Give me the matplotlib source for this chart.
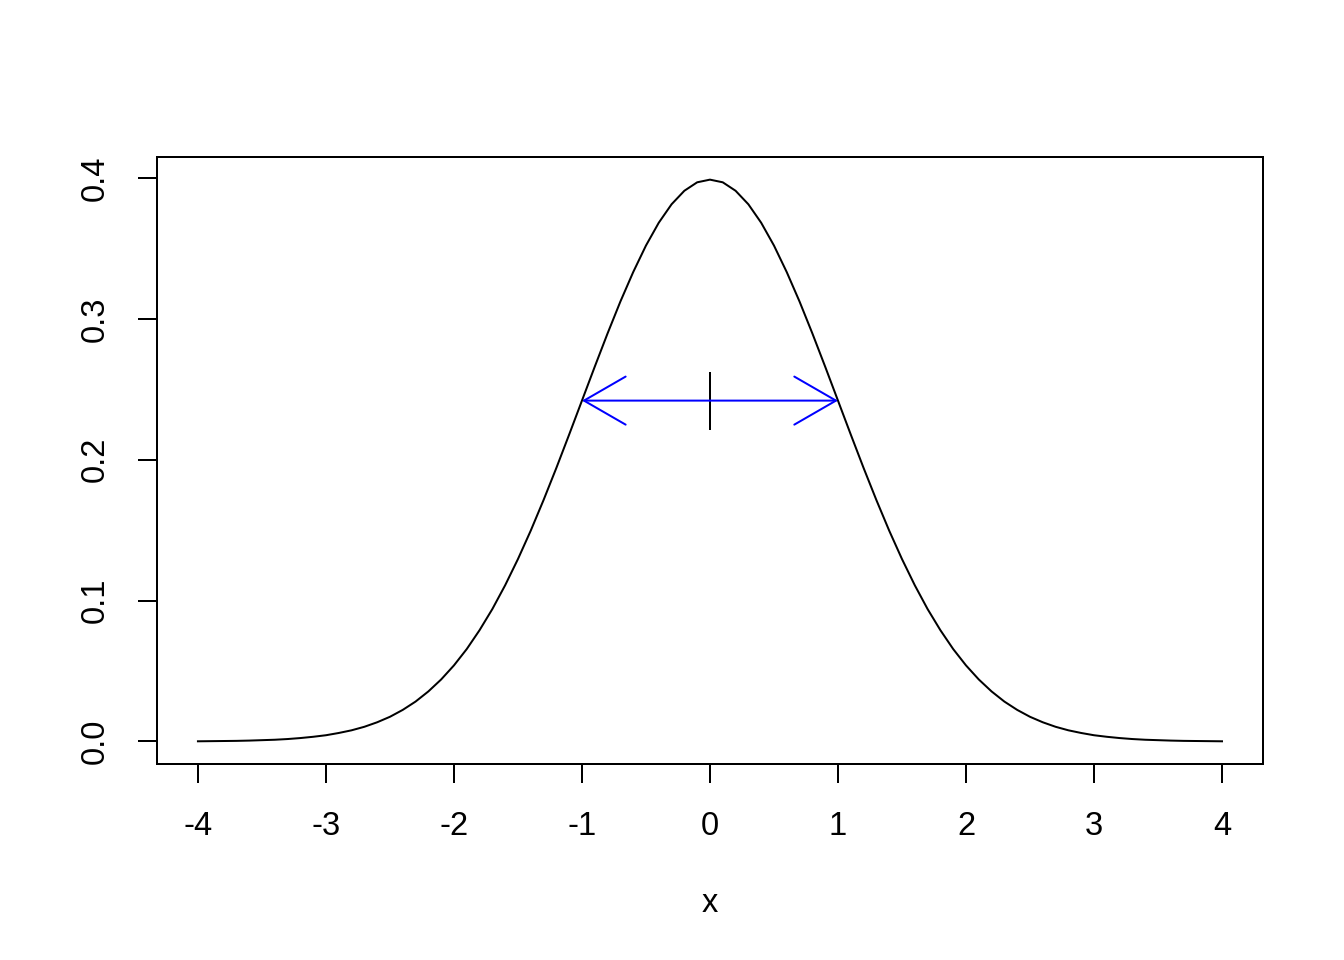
import numpy as np
import matplotlib
matplotlib.use("Agg")
import matplotlib.pyplot as plt

plt.rcParams['font.family'] = ['Liberation Sans', 'DejaVu Sans']

# density curve
x = [-4.0, -3.9, -3.8, -3.7, -3.6, -3.5, -3.4, -3.3, -3.2, -3.1,
     -3.0, -2.9, -2.8, -2.7, -2.6, -2.5, -2.4, -2.3, -2.2, -2.1,
     -2.0, -1.9, -1.8, -1.7, -1.6, -1.5, -1.4, -1.3, -1.2, -1.1,
     -1.0, -0.9, -0.8, -0.7, -0.6, -0.5, -0.4, -0.3, -0.2, -0.1,
     0.0, 0.1, 0.2, 0.3, 0.4, 0.5, 0.6, 0.7, 0.8, 0.9,
     1.0, 1.1, 1.2, 1.3, 1.4, 1.5, 1.6, 1.7, 1.8, 1.9,
     2.0, 2.1, 2.2, 2.3, 2.4, 2.5, 2.6, 2.7, 2.8, 2.9,
     3.0, 3.1, 3.2, 3.3, 3.4, 3.5, 3.6, 3.7, 3.8, 3.9, 4.0]
y = [0.0001, 0.0002, 0.0003, 0.0004, 0.0006, 0.0009, 0.0012, 0.0017, 0.0024, 0.0033,
     0.0044, 0.0060, 0.0079, 0.0104, 0.0136, 0.0175, 0.0224, 0.0283, 0.0355, 0.0440,
     0.0540, 0.0656, 0.0790, 0.0940, 0.1109, 0.1295, 0.1497, 0.1714, 0.1942, 0.2179,
     0.2420, 0.2661, 0.2897, 0.3123, 0.3332, 0.3521, 0.3683, 0.3814, 0.3910, 0.3970,
     0.3989, 0.3970, 0.3910, 0.3814, 0.3683, 0.3521, 0.3332, 0.3123, 0.2897, 0.2661,
     0.2420, 0.2179, 0.1942, 0.1714, 0.1497, 0.1295, 0.1109, 0.0940, 0.0790, 0.0656,
     0.0540, 0.0440, 0.0355, 0.0283, 0.0224, 0.0175, 0.0136, 0.0104, 0.0079, 0.0060,
     0.0044, 0.0033, 0.0024, 0.0017, 0.0012, 0.0009, 0.0006, 0.0004, 0.0003, 0.0002, 0.0001]

center = 0.0
arrow_ends = [-1.0, 1.0]
arrow_y = 0.242

xticks = [-4, -3, -2, -1, 0, 1, 2, 3, 4]
yticks = [0.0, 0.1, 0.2, 0.3, 0.4]

fig = plt.figure(figsize=(13.44, 9.6), dpi=100)
ax = fig.add_axes([0.1168, 0.2042, 0.8229, 0.6323])

lw = 1.44
ax.plot(x, y, color='black', lw=lw)

# double-headed arrow drawn as two arrows from the centre
for xe in arrow_ends:
    ax.annotate('', xy=(xe, arrow_y), xytext=(center, arrow_y),
                arrowprops=dict(arrowstyle='->,head_length=30,head_width=17.3',
                                mutation_scale=1, color='blue', lw=lw,
                                shrinkA=0, shrinkB=0))
ax.plot([center], [arrow_y], marker='|', markersize=42, mew=lw, color='black')

ax.set_xlim(-4.32, 4.32)
ax.set_ylim(-0.016, 0.415)
ax.set_xticks(xticks)
ax.set_xticklabels([str(t) for t in xticks])
ax.set_yticks(yticks)
ax.set_yticklabels(['%.1f' % t for t in yticks], rotation=90, va='center')
ax.tick_params(axis='both', length=14, width=lw, labelsize=23.5, color='black')
ax.tick_params(axis='x', pad=20)
ax.tick_params(axis='y', pad=19)
for s in ax.spines.values():
    s.set_linewidth(lw)
ax.set_xlabel('x', fontsize=23.5, labelpad=33)

fig.savefig('out.png', dpi=100)
